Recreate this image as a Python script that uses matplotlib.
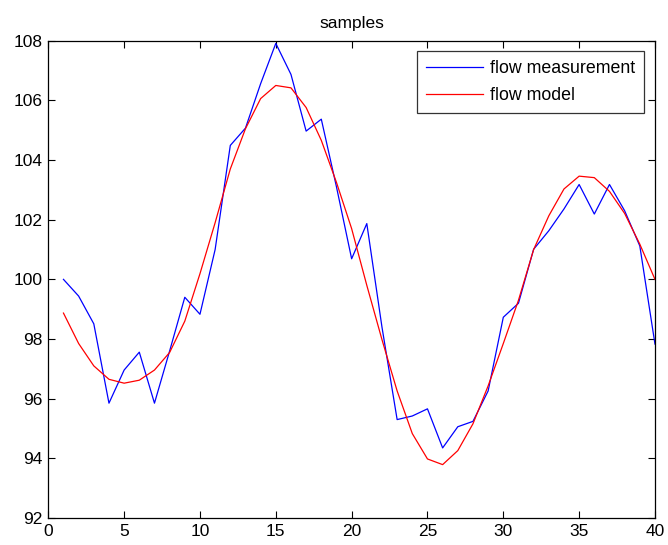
import matplotlib
matplotlib.use("Agg")
import matplotlib.pyplot as plt

plt.rcParams['font.family'] = ['Liberation Sans', 'DejaVu Sans']

# sample index 1..40
samples = list(range(1, 41))

flow_measurement = [100.0, 99.44, 98.51, 95.85, 96.96, 97.56, 95.85, 97.6, 99.4, 98.83,
                    101.0, 104.49, 105.07, 106.56, 107.91, 106.87, 104.97, 105.37, 103.1, 100.69,
                    101.87, 98.4, 95.3, 95.42, 95.66, 94.35, 95.06, 95.24, 96.26, 98.73,
                    99.2, 101.01, 101.63, 102.36, 103.18, 102.19, 103.18, 102.3, 101.12, 97.83]

flow_model = [98.87, 97.85, 97.1, 96.65, 96.52, 96.62, 96.96, 97.55, 98.6, 100.19,
              101.9, 103.7, 105.05, 106.06, 106.5, 106.42, 105.76, 104.66, 103.25, 101.7,
              99.8, 97.98, 96.26, 94.83, 93.98, 93.79, 94.26, 95.16, 96.43, 97.85,
              99.3, 101.0, 102.13, 103.03, 103.46, 103.41, 102.95, 102.21, 101.18, 100.0]

fig = plt.figure(figsize=(6.68, 5.45), dpi=100)
ax = fig.add_axes([0.0723, 0.0495, 0.9082, 0.8758])

ax.plot(samples, flow_measurement, color='#0000ff', lw=0.9, label='flow measurement')
ax.plot(samples, flow_model, color='#ff0000', lw=0.9, label='flow model')

ax.set_xlim(0, 40)
ax.set_ylim(92, 108)
ax.set_xticks(range(0, 41, 5))
ax.set_yticks(range(92, 109, 2))
ax.tick_params(direction='in', length=5, width=0.8, labelsize=12.5,
               top=True, right=True, pad=4)
for sp in ax.spines.values():
    sp.set_linewidth(0.9)

ax.set_title('samples', fontsize=12.5, pad=9)

leg = ax.legend(loc='upper right', prop={'size': 12.8}, frameon=True, fancybox=False,
                edgecolor='black', borderaxespad=0.6, handlelength=3.2,
                handletextpad=0.4, borderpad=0.5, labelspacing=0.55)
leg.get_frame().set_linewidth(0.9)

fig.savefig('out.png', dpi=100)
